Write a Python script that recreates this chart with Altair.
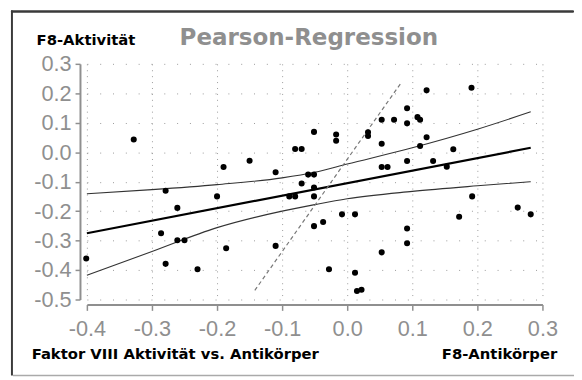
import altair as alt
import pandas as pd

# ---- data ----
pt_x = [-0.328, -0.190, -0.150, -0.110, -0.080, -0.070, -0.051, -0.060, -0.051, -0.070,
        -0.017, -0.017, 0.032, 0.032, 0.053, 0.072, 0.092, 0.092, 0.108, 0.112,
        0.122, 0.191, 0.122, 0.112, 0.163, 0.053, 0.092, 0.132, 0.153, 0.053,
        0.062, -0.279, -0.200, -0.261, -0.286, -0.261, -0.250, -0.401, -0.279, -0.230,
        -0.186, -0.110, -0.089, -0.080, -0.051, -0.051, -0.051, -0.037, -0.008, 0.012,
        -0.028, 0.012, 0.015, 0.022, 0.053, 0.092, 0.092, 0.172, 0.192, 0.262, 0.282]
pt_y = [0.043, -0.050, -0.029, -0.068, 0.011, 0.011, 0.069, -0.076, -0.076, -0.106,
        0.060, 0.039, 0.068, 0.055, 0.110, 0.110, 0.149, 0.098, 0.119, 0.110,
        0.210, 0.219, 0.051, 0.021, 0.010, 0.029, -0.030, -0.030, -0.049, -0.050,
        -0.050, -0.131, -0.150, -0.189, -0.275, -0.299, -0.299, -0.361, -0.379, -0.397,
        -0.326, -0.318, -0.150, -0.150, -0.120, -0.150, -0.251, -0.237, -0.211, -0.211,
        -0.397, -0.409, -0.471, -0.467, -0.340, -0.259, -0.309, -0.219, -0.150, -0.188, -0.211]

fit_x = [-0.4, 0.282]
fit_y = [-0.275, 0.015]

band_x = [-0.4, -0.3, -0.2, -0.1, -0.05, 0.0, 0.1, 0.2, 0.282]
upper_y = [-0.141, -0.127, -0.110, -0.087, -0.068, -0.040, 0.015, 0.078, 0.137]
lower_y = [-0.418, -0.337, -0.256, -0.200, -0.178, -0.158, -0.133, -0.114, -0.100]

dash_x = [-0.142, 0.083]
dash_y = [-0.469, 0.236]

x_ticks = [-0.4, -0.3, -0.2, -0.1, 0.0, 0.1, 0.2, 0.3]
y_ticks = [-0.5, -0.4, -0.3, -0.2, -0.1, 0.0, 0.1, 0.2, 0.3]

TITLE = "Pearson-Regression"
Y_TITLE = "F8-Aktivität"
X_TITLE_LEFT = "Faktor VIII Aktivität vs. Antikörper"
X_TITLE_RIGHT = "F8-Antikörper"

# ---- styling ----
GRAY = "#8f8f8f"
LABEL_FONT = "Liberation Sans"
BOLD_FONT = "DejaVu Sans"
label_expr = "replace(format(datum.value, '.1f'), '\u2212', '-')"

xs = alt.Scale(domain=[-0.4, 0.3], nice=False, zero=False)
ys = alt.Scale(domain=[-0.5, 0.3], nice=False, zero=False)

xaxis = alt.Axis(values=x_ticks, labelExpr=label_expr, title=None, offset=5,
                 tickSize=6, tickColor=GRAY, tickWidth=1.5, domainColor=GRAY, domainWidth=2,
                 labelFont=LABEL_FONT, labelFontSize=22, labelColor=GRAY, labelPadding=9,
                 labelFlush=False, grid=True, gridColor="#9a9a9a", gridDash=[1, 5], gridWidth=1)
yaxis = alt.Axis(values=y_ticks, labelExpr=label_expr, title=None, offset=7,
                 tickSize=5, tickColor=GRAY, tickWidth=1.5, domainColor=GRAY, domainWidth=2,
                 labelFont=LABEL_FONT, labelFontSize=22, labelColor=GRAY, labelPadding=4,
                 labelFlush=False, grid=True, gridColor="#9a9a9a", gridDash=[1, 12], gridWidth=1)

pts = pd.DataFrame({"x": pt_x, "y": pt_y})
fit = pd.DataFrame({"x": fit_x, "y": fit_y})
up = pd.DataFrame({"x": band_x, "y": upper_y})
lo = pd.DataFrame({"x": band_x, "y": lower_y})
dsh = pd.DataFrame({"x": dash_x, "y": dash_y})

def enc(ch):
    return ch.encode(
        x=alt.X("x:Q", scale=xs, axis=xaxis),
        y=alt.Y("y:Q", scale=ys, axis=yaxis),
    )

upper = enc(alt.Chart(up).mark_line(color="#333", strokeWidth=1.1, interpolate="monotone"))
lower = enc(alt.Chart(lo).mark_line(color="#333", strokeWidth=1.1, interpolate="monotone"))
fitl = enc(alt.Chart(fit).mark_line(color="black", strokeWidth=2.2))
dashed = enc(alt.Chart(dsh).mark_line(color="#777", strokeWidth=1.2, strokeDash=[4, 3]))
points = enc(alt.Chart(pts).mark_circle(size=38, color="black", opacity=1))

def text(t, x, y, **kw):
    return alt.Chart(pd.DataFrame({"t": [t]})).mark_text(**kw).encode(
        text="t:N", x=alt.value(x), y=alt.value(y))

title = text(TITLE, 94, -19, font=BOLD_FONT, fontWeight="bold", fontSize=23.3,
             color=GRAY, align="left", baseline="alphabetic")
ytitle = text(Y_TITLE, -51, -19, font=BOLD_FONT, fontWeight="bold", fontSize=15,
              color="black", align="left", baseline="alphabetic")
xtitle_l = text(X_TITLE_LEFT, -56, 299, font=BOLD_FONT, fontWeight="bold", fontSize=15,
                color="black", align="left", baseline="alphabetic")
xtitle_r = text(X_TITLE_RIGHT, 477, 299, font=BOLD_FONT, fontWeight="bold", fontSize=15,
                color="black", align="right", baseline="alphabetic")

one = pd.DataFrame({"a": [0]})
frame_left = alt.Chart(one).mark_rule(color="#3a3a3a", strokeWidth=2).encode(
    x=alt.value(-76), y=alt.value(-54), y2=alt.value(316))
frame_top = alt.Chart(one).mark_rule(color="#3a3a3a", strokeWidth=2).encode(
    x=alt.value(-77), x2=alt.value(494), y=alt.value(-53))
frame_top_tick = alt.Chart(one).mark_tick(color="#3a3a3a", orient="horizontal",
                                          size=570, thickness=2, opacity=1).encode(
    x=alt.value(208), y=alt.value(-53))
frame_bottom = alt.Chart(one).mark_rule(color="#aaa", strokeWidth=1.5).encode(
    x=alt.value(-75), x2=alt.value(494), y=alt.value(316))

chart = alt.layer(
    upper, lower, fitl, dashed, points,
    title, ytitle, xtitle_l, xtitle_r, frame_left, frame_top, frame_top_tick, frame_bottom,
).properties(
    width=462, height=239,
    padding={"left": 80, "top": 54, "right": 32, "bottom": 79},
    autosize=alt.AutoSizeParams(type="none"),
    background="white",
).configure_view(strokeWidth=0)

chart.save("out.html", embed_options={"renderer": "svg", "actions": False})
